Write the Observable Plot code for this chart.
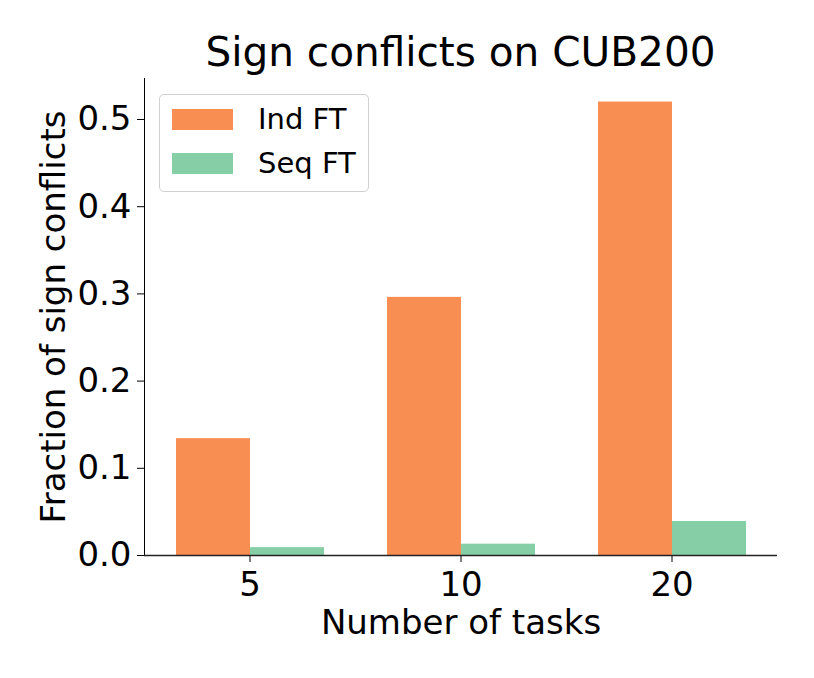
<!DOCTYPE html>
<html>
<head>
<meta charset="utf-8">
<script src="https://cdn.jsdelivr.net/npm/d3@7"></script>
<script src="https://cdn.jsdelivr.net/npm/@observablehq/plot@0.6"></script>
<style>
  html, body { margin: 0; padding: 0; background: #fff; }
  body { font-family: "DejaVu Sans", sans-serif; color: #000; }
  #wrap { position: relative; width: 814px; height: 678px; overflow: hidden; }
  #title { position: relative; height: 70px; }
  #title span { position: absolute; left: 143px; width: 635px; top: 32px; text-align: center;
    font-size: 40.6px; line-height: 40px; white-space: nowrap; }
  #legend { position: absolute; left: 159px; top: 94px; width: 208px; height: 96px;
    border: 1px solid #d0d0d0; border-radius: 5px; background: rgba(255,255,255,0.8); }
  .item { position: absolute; left: 12px; height: 21px; }
  .sw { position: absolute; left: 0; top: 0; width: 61px; height: 21px; }
  .lab { position: absolute; left: 86px; top: -7px; font-size: 29px; line-height: 34px; white-space: nowrap; }
</style>
</head>
<body>
<div id="wrap">
  <div id="title"><span>Sign conflicts on CUB200</span></div>
  <div id="chart"></div>
  <div id="legend"></div>
</div>
<script>
const tasks = ["5", "10", "20"];
const methods = ["Ind FT", "Seq FT"];
const indFT = [0.134, 0.296, 0.520];
const seqFT = [0.009, 0.013, 0.039];
const colors = ["#f98e52", "#86cfa6"];
const yTicks = [0, 0.1, 0.2, 0.3, 0.4, 0.5];

const rows = [];
tasks.forEach((t, i) => {
  rows.push({tasks: t, method: methods[0], value: indFT[i]});
  rows.push({tasks: t, method: methods[1], value: seqFT[i]});
});

const chart = Plot.plot({
  width: 814,
  height: 600,
  marginTop: 8,
  marginBottom: 115,
  marginLeft: 143,
  marginRight: 36,
  style: {fontFamily: "DejaVu Sans", fontSize: "34px", color: "#000", background: "white", overflow: "visible"},
  facet: {data: rows, x: "tasks"},
  fx: {domain: tasks, padding: 0, axis: "bottom", label: "Number of tasks", labelAnchor: "center",
       labelArrow: false, tickSize: 7, tickPadding: 9, labelOffset: 78},
  x: {domain: methods, axis: null, paddingInner: 0, paddingOuter: 0.42},
  y: {domain: [0, 0.547], ticks: yTicks, tickFormat: d3.format(".1f"), tickSize: 7, tickPadding: 6,
      line: true, label: "Fraction of sign conflicts", labelAnchor: "center", labelArrow: false, labelOffset: 104},
  color: {domain: methods, range: colors},
  marks: [
    Plot.barY(rows, {x: "method", y: "value", fill: "method"}),
    Plot.ruleY([0], {stroke: "#222", strokeWidth: 1.5})
  ]
});
document.getElementById("chart").appendChild(chart);

const legend = document.getElementById("legend");
methods.forEach((m, i) => {
  const item = document.createElement("div");
  item.className = "item";
  item.style.top = (14 + i * 44) + "px";
  const sw = document.createElement("div");
  sw.className = "sw";
  sw.style.background = colors[i];
  const lab = document.createElement("div");
  lab.className = "lab";
  lab.textContent = m;
  item.appendChild(sw);
  item.appendChild(lab);
  legend.appendChild(item);
});
</script>
</body>
</html>
